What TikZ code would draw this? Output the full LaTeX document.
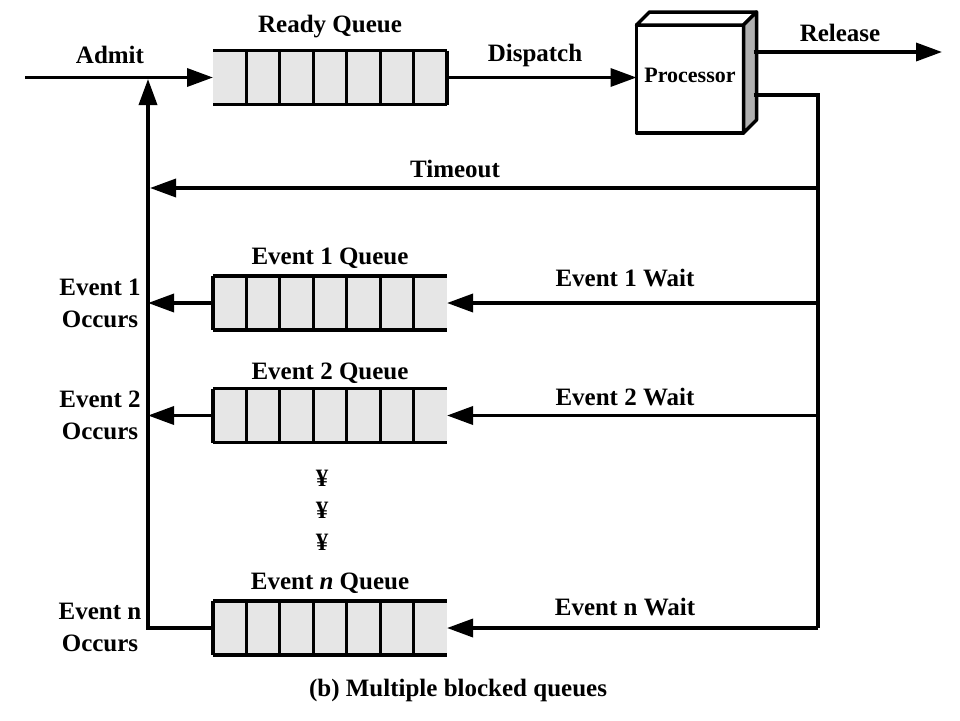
\documentclass[tikz,border=0pt]{standalone}
\usepackage{fontspec}
\setmainfont{Liberation Serif}
\usetikzlibrary{arrows.meta,calc}
\definecolor{qfill}{HTML}{E6E6E6}
\definecolor{sidegray}{HTML}{B0B0B0}
\begin{document}
\begin{tikzpicture}[x=1pt,y=-1pt,
  every node/.style={outer sep=0pt},
  lbl/.style={font=\fontsize{25}{32}\selectfont\bfseries, inner sep=0pt, align=center},
  wire/.style={line width=3.5pt},
  arr/.style={line width=3.5pt, -{Triangle[length=26pt,width=18pt]}},
  qbox/.style={fill=qfill, minimum width=234pt, minimum height=54pt, inner sep=0pt, draw=none},
  procbox/.style={draw, line width=3.5pt, fill=white, minimum width=107pt, minimum height=108pt, inner sep=0pt, line join=round}
]
\useasboundingbox (0,0) rectangle (960,720);
\fill[white] (0,0) rectangle (960,720);

% queues
\node[qbox] (rq) at (330,77.5) {};
\node[qbox] (e1) at (330,303) {};
\node[qbox] (e2) at (330,415.5) {};
\node[qbox] (en) at (330,628) {};

\foreach \q in {rq,e1,e2,en}{
  \draw[wire] (\q.north west) -- (\q.north east);
  \draw[wire] (\q.south west) -- (\q.south east);
  \foreach \i in {1,...,6}{
    \draw[line width=2.8pt] ($(\q.north west)!\i/7!(\q.north east)$) -- ($(\q.south west)!\i/7!(\q.south east)$);
  }
}
\draw[wire] (rq.north east) -- (rq.south east);
\foreach \q in {e1,e2,en}{
  \draw[wire] (\q.north west) -- (\q.south west);
}

% processor
\node[procbox] (proc) at (690,79) {};
\fill[white,draw=black,line width=3.5pt,line join=round] (proc.north west) -- ++(13,-13) -- ($(proc.north east)+(13,-13)$) -- (proc.north east) -- cycle;
\fill[sidegray,draw=black,line width=3.5pt,line join=round] (proc.north east) -- ++(13,-13) -- ($(proc.south east)+(13,-13)$) -- (proc.south east) -- cycle;
\node[font=\fontsize{22}{26}\selectfont\bfseries, inner sep=0pt] (proclbl) at (690,75) {Processor};

% coordinates
\coordinate (relstart) at ($(proc.north east)+(10,27)$);
\coordinate (relend) at (942,52);
\coordinate (outstart) at ($(proc.north east)+(10,70)$);
\coordinate (rc) at (818,95);
\coordinate (admitstart) at (25,77.5);
\coordinate (lc) at (148,628);
\coordinate (ltop) at (148,79);

% top flow
\draw[arr] (admitstart) -- (rq.west);
\draw[arr] (rq.east) -- (rq.east -| proc.west);
\draw[arr] (relstart) -- (relend);

% right bus
\draw[wire] (outstart) -- (rc) -- (rc |- en.east);
\draw[arr] (rc |- 0,188) -- (150,188);
\draw[arr] (rc |- e1.east) -- (e1.east);
\draw[arr] (rc |- e2.east) -- (e2.east);
\draw[arr] (rc |- en.east) -- (en.east);

% left bus
\draw[wire] (en.west) -- (lc) -- ([yshift=-20pt]ltop);
\draw[arr] (lc) -- (ltop);
\draw[arr] (e1.west) -- (e1.west -| lc);
\draw[arr] (e2.west) -- (e2.west -| lc);

% labels
\node[lbl] (admit) at (110,55) {Admit};
\node[lbl] (rql) at (330,27) {Ready Queue};
\node[lbl] (disp) at (535,55) {Dispatch};
\node[lbl] (rel) at (840,33) {Release};
\node[lbl] (tout) at (455,169) {Timeout};
\node[lbl] (e1l) at (330,258) {Event 1 Queue};
\node[lbl] (e1w) at (625,278) {Event 1 Wait};
\node[lbl] (e1o) at (100,303) {Event 1\\Occurs};
\node[lbl] (e2l) at (330,373) {Event 2 Queue};
\node[lbl] (e2w) at (625,397) {Event 2 Wait};
\node[lbl] (e2o) at (100,415.5) {Event 2\\Occurs};
\node[lbl] (d1) at (322,478) {¥};
\node[lbl] (d2) at (322,510) {¥};
\node[lbl] (d3) at (322,542) {¥};
\node[lbl] (enl) at (330,583) {Event \textit{n} Queue};
\node[lbl] (enw) at (625,607) {Event n Wait};
\node[lbl] (eno) at (100,627.5) {Event n\\Occurs};
\node[lbl] (cap) at (458,690) {(b) Multiple blocked queues};
\end{tikzpicture}
\end{document}
